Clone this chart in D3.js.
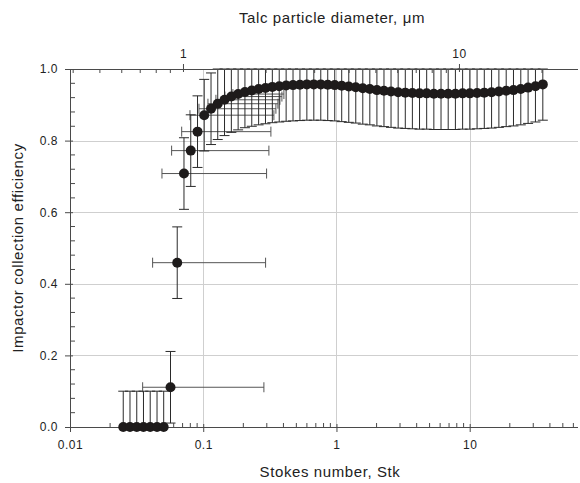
<!DOCTYPE html>
<meta charset="utf-8">
<style>
  body { margin: 0; background: #fff; }
  text { font-family: "Liberation Sans", Arial, sans-serif; fill: #222; }
  .grid line { stroke: #cfcfcf; stroke-width: 1px; }
  .axis path, .axis line { stroke: #4a4a4a; }
  .axis text { letter-spacing: 0.5px; }
  .title { font-size: 15px; letter-spacing: 0.6px; }
  .ebar { stroke: #2a2a2a; stroke-width: 1px; fill: none; }
  .xbar { stroke: #555; stroke-width: 1px; fill: none; }
  .dot { fill: #1e1b1b; }
</style>
<svg width="580" height="483"></svg>
<script src="https://d3js.org/d3.v7.min.js"></script>
<script>

    // Stokes number of each point
    var stk = [0.0251, 0.0282, 0.0317, 0.0356, 0.0400, 0.0450, 0.0505,
               0.0568, 0.0638, 0.0717, 0.0806, 0.0906,
               0.1017, 0.1144, 0.1285, 0.1445, 0.1626, 0.1828, 0.2056, 0.2314, 0.2605, 0.2932,
               0.3301, 0.3719, 0.4190, 0.4720, 0.5320, 0.5996, 0.6761, 0.7626, 0.8602, 0.9707,
               1.095, 1.237, 1.396, 1.576, 1.780, 2.012, 2.273, 2.568, 2.905, 3.285,
               3.714, 4.202, 4.755, 5.382, 6.092, 6.897, 7.810, 8.849, 10.02, 11.36,
               12.87, 14.60, 16.56, 18.79, 21.31, 24.18, 27.44, 31.15, 35.39];

    // impactor collection efficiency
    var eff = [0, 0, 0, 0, 0, 0, 0,
               0.111, 0.459, 0.708, 0.772, 0.825,
               0.871, 0.889, 0.903, 0.914, 0.923, 0.930, 0.936, 0.940, 0.944, 0.947,
               0.950, 0.952, 0.954, 0.955, 0.956, 0.957, 0.957, 0.957, 0.956, 0.955,
               0.953, 0.951, 0.949, 0.946, 0.944, 0.941, 0.939, 0.937, 0.935, 0.934,
               0.933, 0.932, 0.932, 0.931, 0.931, 0.931, 0.931, 0.932, 0.932, 0.933,
               0.934, 0.935, 0.937, 0.939, 0.941, 0.944, 0.948, 0.952, 0.957];

    var yErr = 0.1;

    // horizontal error bars: point index, low and high Stk
    var xErrIdx = [7, 8, 9, 10, 11, 12, 13, 14, 15, 16, 17];
    var xErrLo = [0.0351, 0.0417, 0.0490, 0.0579, 0.0689, 0.0795, 0.0929, 0.1085, 0.1245, 0.1455, 0.1670];
    var xErrHi = [0.2853, 0.2938, 0.2989, 0.3111, 0.3220, 0.3392, 0.3511, 0.3635, 0.3762, 0.3895, 0.4031];

    var stkTicks = [0.01, 0.1, 1, 10];
    var stkLabels = ["0.01", "0.1", "1", "10"];
    var diamTicks = [1, 10];
    var diamLabels = ["1", "10"];
    var effTicks = [0, 0.2, 0.4, 0.6, 0.8, 1.0];
    var effLabels = ["0.0", "0.2", "0.4", "0.6", "0.8", "1.0"];

    var svg = d3.select("svg");

    var x = d3.scaleLog().domain([0.01, 65]).range([70, 578]);
    var xTop = d3.scaleLog().domain([0.3896, 27.0]).range([70, 578]);
    var y = d3.scaleLinear().domain([0, 1]).range([427, 69]);

    // grid
    var grid = svg.append("g").attr("class", "grid");
    grid.selectAll(".gx").data([0.1, 1, 10]).enter().append("line")
        .attr("x1", function(d) { return Math.round(x(d)) + 0.5; })
        .attr("x2", function(d) { return Math.round(x(d)) + 0.5; })
        .attr("y1", y(1)).attr("y2", y(0));
    grid.selectAll(".gy").data([0.2, 0.4, 0.6, 0.8]).enter().append("line")
        .attr("x1", x.range()[0]).attr("x2", x.range()[1])
        .attr("y1", function(d) { return Math.round(y(d)) + 0.5; })
        .attr("y2", function(d) { return Math.round(y(d)) + 0.5; });

    // minor tick values
    function logMinors(scale) {
        var dom = scale.domain(), out = [];
        for (var p = -3; p <= 3; p++) {
            for (var m = 2; m <= 9; m++) {
                var v = m * Math.pow(10, p);
                if (v > dom[0] && v < dom[1]) out.push(v);
            }
        }
        return out;
    }

    var pts = stk.map(function(s, i) { return {s: s, e: eff[i]}; });
    var cap = 5;

    // horizontal error bars
    var xb = svg.append("g").attr("class", "xbar");
    xErrIdx.forEach(function(k, j) {
        var py = y(eff[k]), a = x(xErrLo[j]), b = x(xErrHi[j]);
        xb.append("line").attr("x1", a).attr("x2", b).attr("y1", py).attr("y2", py);
        xb.append("line").attr("x1", a).attr("x2", a).attr("y1", py - cap).attr("y2", py + cap);
        xb.append("line").attr("x1", b).attr("x2", b).attr("y1", py - cap).attr("y2", py + cap);
    });

    // vertical error bars
    var eb = svg.append("g").attr("class", "ebar");
    pts.forEach(function(p) {
        var px = x(p.s);
        var hi = Math.min(p.e + yErr, 1), lo = Math.max(p.e - yErr, 0);
        eb.append("line").attr("x1", px).attr("x2", px).attr("y1", y(hi)).attr("y2", y(lo));
        eb.append("line").attr("x1", px - cap).attr("x2", px + cap).attr("y1", y(hi)).attr("y2", y(hi));
        if (lo > 0) eb.append("line").attr("x1", px - cap).attr("x2", px + cap).attr("y1", y(lo)).attr("y2", y(lo));
    });

    // bottom axis
    var axB = svg.append("g").attr("class", "axis")
        .attr("transform", "translate(0," + y(0) + ")")
        .call(d3.axisBottom(x).tickValues(stkTicks)
            .tickFormat(function(d, i) { return stkLabels[i]; })
            .tickSize(5).tickPadding(8));
    axB.selectAll(".tick line").attr("y1", -3);
    axB.selectAll("text").style("font-size", "12px");
    axB.select(".domain").attr("d", "M" + x.range()[0] + ",0.5H" + x.range()[1]);
    axB.selectAll(".minor").data(logMinors(x)).enter().append("line")
        .attr("class", "minor")
        .attr("x1", function(d) { return x(d); }).attr("x2", function(d) { return x(d); })
        .attr("y1", 0).attr("y2", -4).attr("stroke", "#4a4a4a");

    // top axis (particle diameter)
    var axT = svg.append("g").attr("class", "axis")
        .attr("transform", "translate(0," + y(1) + ")")
        .call(d3.axisTop(xTop).tickValues(diamTicks)
            .tickFormat(function(d, i) { return diamLabels[i]; })
            .tickSize(5).tickPadding(6));
    axT.selectAll(".tick line").attr("y1", 3);
    axT.selectAll("text").style("font-size", "12px");
    axT.select(".domain").attr("d", "M" + x.range()[0] + ",0.5H" + x.range()[1]);
    axT.selectAll(".minor").data(logMinors(xTop)).enter().append("line")
        .attr("class", "minor")
        .attr("x1", function(d) { return xTop(d); }).attr("x2", function(d) { return xTop(d); })
        .attr("y1", 0).attr("y2", 4).attr("stroke", "#4a4a4a");

    // left axis
    var axL = svg.append("g").attr("class", "axis")
        .attr("transform", "translate(" + x.range()[0] + ",0)")
        .call(d3.axisLeft(y).tickValues(effTicks)
            .tickFormat(function(d, i) { return effLabels[i]; })
            .tickSize(5).tickPadding(7));
    axL.selectAll(".tick line").attr("x1", 3);
    axL.selectAll("text").style("font-size", "12px");
    axL.select(".domain").attr("d", "M0.5," + y(0) + "V" + y(1));
    axL.selectAll(".minor").data(d3.range(1, 25).map(function(k) { return k * 0.04; })
            .filter(function(v) { return Math.abs(v / 0.2 - Math.round(v / 0.2)) > 1e-6; }))
        .enter().append("line")
        .attr("class", "minor")
        .attr("x1", 0).attr("x2", 5)
        .attr("y1", function(d) { return y(d); }).attr("y2", function(d) { return y(d); })
        .attr("stroke", "#4a4a4a");

    // axis titles
    svg.append("text").attr("class", "title").attr("x", 330).attr("y", 477)
        .attr("text-anchor", "middle").text("Stokes number, Stk");
    svg.append("text").attr("class", "title").attr("x", 332).attr("y", 23)
        .attr("text-anchor", "middle").text("Talc particle diameter, μm");
    svg.append("text").attr("class", "title").attr("transform", "translate(23,248) rotate(-90)")
        .attr("text-anchor", "middle").text("Impactor collection efficiency");

    // points
    svg.append("g").selectAll(".dot").data(pts).enter().append("circle")
        .attr("class", "dot")
        .attr("cx", function(d) { return x(d.s); })
        .attr("cy", function(d) { return y(d.e); })
        .attr("r", 5);

</script>
